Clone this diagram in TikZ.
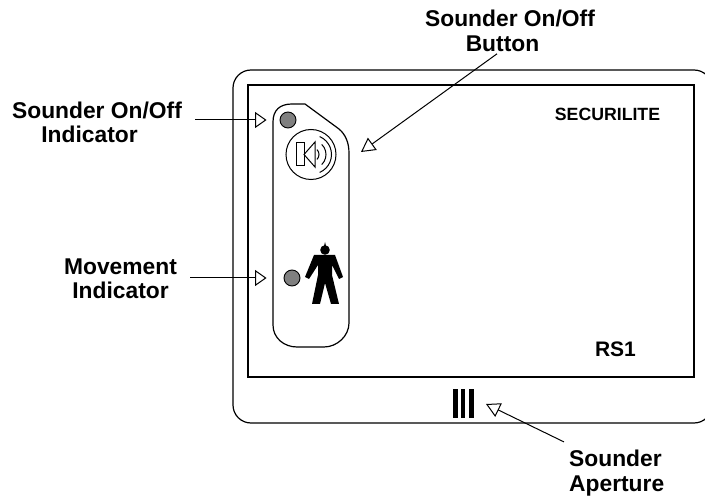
\documentclass[tikz,border=0pt]{standalone}
\usepackage{fontspec}
\setmainfont{Liberation Sans}
\usetikzlibrary{arrows.meta}
\tikzset{
  lbl/.style={font=\fontsize{22.8}{24.5}\selectfont\bfseries,align=center,inner sep=0pt},
  pointer/.style={-{Triangle[open,length=11.5pt,width=16pt,line width=1pt]},line width=1pt},
  slantpointer/.style={-{Triangle[open,length=14pt,width=15pt,line width=1pt]},line width=1pt},
  frame/.style={line width=1.2pt},
  led/.style={circle,draw,fill=gray,line width=0.9pt,minimum size=16pt,inner sep=0pt},
  thinline/.style={line width=1pt},
}
\begin{document}
\begin{tikzpicture}[x=1pt,y=-1pt]
    \useasboundingbox (0,0) rectangle (705,497);
    \clip (0,0) rectangle (705,497);
    % housing and front
    \draw[frame,rounded corners=18pt] (233,70) rectangle (712,423);
    \draw[frame] (248,85) rectangle (694,377);
    % control strip
    \draw[frame] (273,122) .. controls (273,110) and (280,104) .. (292,104) -- (305,104) -- (339,129) .. controls (345,134) and (349,142) .. (349,153) -- (349,323) .. controls (349,336) and (337,347) .. (324,347) -- (297,347) .. controls (284,347) and (273,338) .. (273,325) -- cycle;
    \node[led] (ledtop) at (288,120) {};
    \node[led] (ledlow) at (292,278) {};
    % speaker
    \node[circle,draw,thinline,minimum size=50pt,inner sep=0pt] (spk) at (311,154.5) {};
    \draw[thinline] (296.5,143) rectangle (304,166);
    \draw[thinline] (304,154.5) -- (315,142) -- (315,167) -- cycle;
    \draw[thinline] (312,154.5) ++(-45:7) arc[start angle=-45,end angle=45,radius=7];
    \draw[thinline] (312,154.5) ++(-46:14) arc[start angle=-46,end angle=46,radius=14];
    \draw[thinline] (312,154.5) ++(-67:19.5) arc[start angle=-67,end angle=67,radius=19.5];
    % person
    \fill (325,242) -- (326,246) -- (324,246) -- cycle;
    \fill (325,250) circle (4.8);
    \fill (314,255) -- (335,255) -- (343,277) -- (339,279) -- (332,265) -- (332,275) -- (339,304) -- (331,304) -- (325,283) -- (320,304) -- (312,304) -- (318,275) -- (318,265) -- (309,279) -- (305,277) -- cycle;
    % aperture
    \fill (453.3,389) rectangle (457.5,418);
    \fill (460.5,389) rectangle (465,418);
    \fill (469.3,389) rectangle (474,418);
    % labels
    \node[lbl] (btn) at (510,31) {Sounder On/Off\\Button\hspace*{15pt}};
    \node[lbl] (ind) at (97,122.5) {Sounder On/Off\\Indicator\hspace*{15pt}};
    \node[lbl] (mov) at (120.5,279) {Movement\\Indicator};
    \node[lbl,align=left,anchor=west] (aper) at (569,473) {Sounder\\Aperture};
    \node[lbl,font=\fontsize{17.7}{20}\selectfont\bfseries] (sec) at (607.5,114.5) {SECURILITE};
    \node[lbl,font=\fontsize{21}{24}\selectfont\bfseries] (rs) at (615.5,349.5) {RS1};
    \coordinate (tipbtn) at (361,152);
    \coordinate (tipaper) at (486,404);
    \draw[slantpointer] ([shift={(-13,2)}]btn.south) -- (tipbtn);
    \draw[pointer,shorten <=13pt,shorten >=13pt] (ind.east |- ledtop) -- (ledtop.west);
    \draw[pointer,shorten <=13pt,shorten >=17pt] (mov.east |- ledlow) -- (ledlow.west);
    \draw[slantpointer] ([shift={(-5,-8)}]aper.north west) -- (tipaper);
\end{tikzpicture}
\end{document}
